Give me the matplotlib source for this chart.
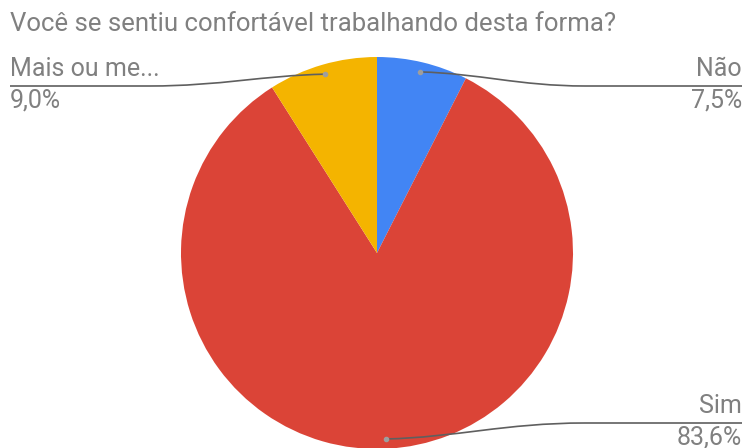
import numpy as np
import matplotlib
matplotlib.use('Agg')
import matplotlib.pyplot as plt
from matplotlib.path import Path
from matplotlib.patches import PathPatch

title = 'Você se sentiu confortável trabalhando desta forma?'
labels = ['Não', 'Sim', 'Mais ou me...']
percent_labels = ['7,5%', '83,6%', '9,0%']
values = [7.5, 83.6, 9.0]
colors = ['#4285f4', '#db4437', '#f4b400']

W, H = 747, 448
plt.rcParams['font.family'] = ['Roboto', 'DejaVu Sans']

fig = plt.figure(figsize=(W / 100, H / 100), dpi=100)
ax = fig.add_axes([0, 0, 1, 1])

cx, cy, r = 377, H - 253, 196
wedges, _ = ax.pie(values, colors=colors, startangle=90, counterclock=False,
                   center=(cx, cy), radius=r, frame=True,
                   wedgeprops=dict(linewidth=0))
ax.set_xlim(0, W)
ax.set_ylim(0, H)
ax.set_aspect('equal')
ax.axis('off')

gray = '#808080'
line_col = '#5f5f5f'

# label placement: (side, y of leader line in pixels)
layout = {'Não': ('right', 86), 'Sim': ('right', 423), 'Mais ou me...': ('left', 86)}

for w, lab, pct in zip(wedges, labels, percent_labels):
    ang = np.deg2rad((w.theta1 + w.theta2) / 2)
    px = cx + 0.95 * r * np.cos(ang)
    py = cy + 0.95 * r * np.sin(ang)
    side, ly = layout[lab]
    ly = H - ly
    if side == 'right':
        x_end, x_bend, ha, xt = 742, 585, 'right', 742
    else:
        x_end, x_bend, ha, xt = 10, 150, 'left', 10
    d = x_bend - px
    verts = [(px, py), (px + 0.35 * d, py + 0.1 * (ly - py)), (px + 0.6 * d, ly), (x_bend, ly), (x_end, ly)]
    codes = [Path.MOVETO, Path.CURVE4, Path.CURVE4, Path.CURVE4, Path.LINETO]
    ax.add_patch(PathPatch(Path(verts, codes), fill=False, edgecolor=line_col, lw=1.2))
    ax.plot(px, py, 'o', color='#9e9e9e', markersize=3)
    ax.text(xt, ly + 5, lab, ha=ha, va='bottom', fontsize=18, color=gray)
    ax.text(xt, ly - 2, pct, ha=ha, va='top', fontsize=18, color=gray)

fig.text(10 / W, 1 - 24 / H, title, ha='left', va='center', fontsize=18.5, color=gray)

fig.savefig('out.png', dpi=100, facecolor='white')
